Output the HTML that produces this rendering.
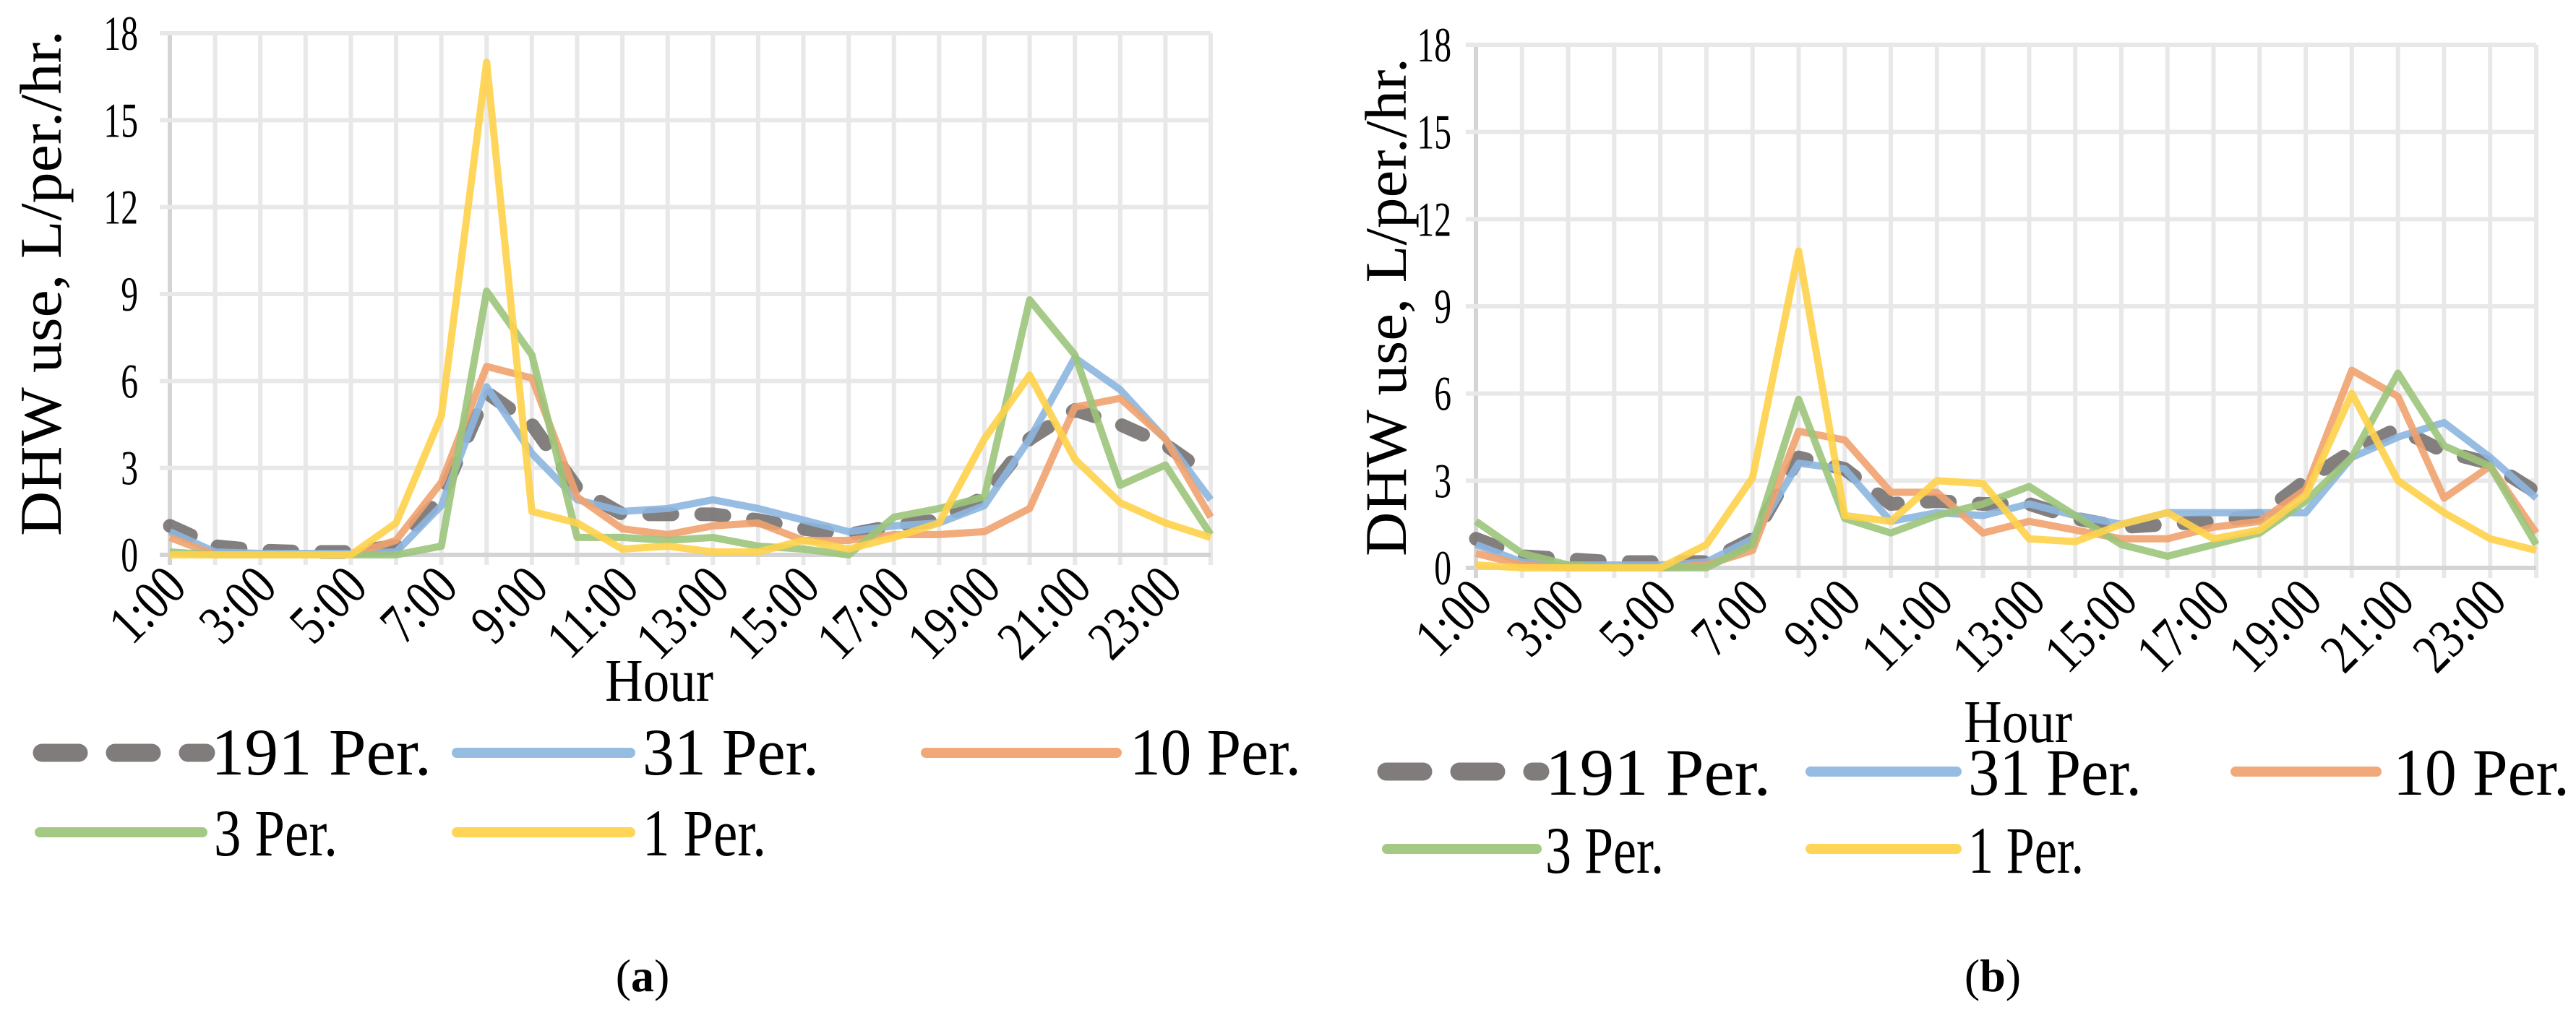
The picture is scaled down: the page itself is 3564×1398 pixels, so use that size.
<!DOCTYPE html>
<html><head><meta charset="utf-8"><style>
html,body{margin:0;padding:0;background:#fff;}
svg{display:block;font-family:"Liberation Serif",serif;}
</style></head><body>
<svg id="fig" width="3564" height="1398" viewBox="0 0 3564 1398" xmlns="http://www.w3.org/2000/svg"></svg>
<script>
const hours = ["1:00","2:00","3:00","4:00","5:00","6:00","7:00","8:00","9:00","10:00","11:00","12:00","13:00","14:00","15:00","16:00","17:00","18:00","19:00","20:00","21:00","22:00","23:00","24:00"];
const yTicks = [0,3,6,9,12,15,18];
const seriesNames = ["191 Per.","31 Per.","10 Per.","3 Per.","1 Per."];
const a191 = [1.0,0.3,0.15,0.1,0.1,0.3,2.0,5.6,4.5,2.3,1.4,1.4,1.4,1.2,0.9,0.7,1.0,1.2,2.0,4.0,5.0,4.5,3.8,2.7];
const a31 = [0.8,0.1,0.05,0.05,0.05,0.1,1.7,5.8,3.5,1.9,1.5,1.6,1.9,1.6,1.2,0.8,1.0,1.1,1.7,4.0,6.8,5.7,4.0,1.9];
const a10 = [0.6,0,0,0,0,0.5,2.5,6.5,6.1,2.0,0.9,0.7,1.0,1.1,0.5,0.5,0.7,0.7,0.8,1.6,5.1,5.4,4.0,1.3];
const a3 = [0.1,0,0,0,0,0,0.3,9.1,6.9,0.6,0.6,0.5,0.6,0.3,0.2,0,1.3,1.6,2.0,8.8,6.9,2.4,3.1,0.7];
const a1 = [0,0,0,0,0,1.1,4.8,17,1.5,1.1,0.2,0.3,0.1,0.1,0.5,0.2,0.6,1.1,4.0,6.2,3.3,1.8,1.1,0.6];
const b191 = [1.0,0.4,0.3,0.2,0.2,0.2,1.0,3.8,3.4,2.2,2.3,2.2,2.2,1.7,1.4,1.5,1.6,1.8,3.0,4.0,4.8,4.0,3.6,2.6];
const b31 = [0.8,0.2,0.1,0.1,0.1,0.2,1.0,3.6,3.4,1.6,1.9,1.8,2.2,1.8,1.5,1.9,1.9,1.9,1.9,3.8,4.5,5.0,3.8,2.4];
const b10 = [0.5,0.1,0,0,0,0.1,0.6,4.7,4.4,2.6,2.6,1.2,1.6,1.3,1.0,1.0,1.4,1.6,2.7,6.8,5.9,2.4,3.5,1.2];
const b3 = [1.6,0.5,0.1,0,0,0,0.8,5.8,1.7,1.2,1.8,2.2,2.8,1.8,0.8,0.4,0.8,1.2,2.3,3.8,6.7,4.2,3.5,0.8];
const b1 = [0.1,0,0,0,0,0.8,3.1,10.9,1.8,1.6,3.0,2.9,1.0,0.9,1.5,1.9,1.0,1.3,2.5,6.0,3.0,1.9,1.0,0.6];

const NS="http://www.w3.org/2000/svg";
const svg=document.getElementById('fig');
const colors=["#767171","#8db6e0","#f0a26e","#9cc47a","#ffd14a"];
function mk(tag,parent){const e=document.createElementNS(NS,tag);parent.appendChild(e);return e;}
function txt(parent,x,y,s,size,anchor,sx,rot){
  const t=mk('text',parent);
  t.setAttribute('font-size',size);t.setAttribute('text-anchor',anchor);
  t.setAttribute('transform',`translate(${x},${y}) rotate(${rot||0}) scale(${sx},1)`);
  t.textContent=s;return t;
}
function chart(cfg,data){
  const g=mk('g',svg);
  
  
  const xs=i=>cfg.L+(cfg.R-cfg.L)*i/(hours.length-1);
  const ys=v=>cfg.B-(cfg.B-cfg.T)*v/18;
  hours.forEach((h,i)=>{const l=mk('line',g);
    
    
    l.setAttribute('x1',xs(i));l.setAttribute('x2',xs(i));l.setAttribute('y1',cfg.T);l.setAttribute('y2',cfg.B+14);
    l.setAttribute('stroke',i===0?'#d4d4d4':'#e8e8e8');l.setAttribute('stroke-width',6);});
  yTicks.forEach(v=>{const l=mk('line',g);
    
    
    l.setAttribute('x1',cfg.L-14);l.setAttribute('x2',cfg.R);l.setAttribute('y1',ys(v));l.setAttribute('y2',ys(v));
    l.setAttribute('stroke',v===0?'#d4d4d4':'#e8e8e8');l.setAttribute('stroke-width',6);
    const t=txt(g,cfg.yl,ys(v)+23,String(v),68,'end',0.7,0);
    
    });
  hours.forEach((h,i)=>{if(i%2)return;
    const t=txt(g,xs(i)+26,cfg.B+48,h,78,'end',0.8,-45);
    
    });
  data.forEach((arr,k)=>{const p=mk('polyline',g);
    
    
    p.setAttribute('points',arr.map((v,i)=>xs(i)+','+ys(v)).join(' '));
    p.setAttribute('fill','none');p.setAttribute('stroke',colors[k]);p.setAttribute('stroke-opacity',0.9);
    p.setAttribute('stroke-linejoin','round');
    if(k===0){p.setAttribute('stroke-width',19);p.setAttribute('stroke-dasharray','32 40');p.setAttribute('stroke-linecap','round');}
    else p.setAttribute('stroke-width',10);});
  const yt=mk('text',g);
  
  
  yt.setAttribute('font-size',82);yt.setAttribute('text-anchor','middle');
  yt.setAttribute('textLength',cfg.ytLen);yt.setAttribute('lengthAdjust','spacingAndGlyphs');
  yt.setAttribute('transform',`translate(${cfg.ytX},${cfg.ytY}) rotate(-90)`);
  yt.textContent='DHW use, L/per./hr.';
  const xt=mk('text',g);
  
  
  xt.setAttribute('font-size',84);xt.setAttribute('text-anchor','middle');
  xt.setAttribute('textLength',150);xt.setAttribute('lengthAdjust','spacingAndGlyphs');
  xt.setAttribute('x',cfg.hx);xt.setAttribute('y',cfg.hy);xt.textContent='Hour';
  cfg.leg.forEach((e,k)=>{
    const lg=mk('g',g);
    
    
    const l=mk('line',lg);
    l.setAttribute('x1',e[0]+(k===0?12:5));l.setAttribute('x2',e[1]-(k===0?0:5));l.setAttribute('y1',e[2]);l.setAttribute('y2',e[2]);
    l.setAttribute('stroke',colors[k]);l.setAttribute('stroke-opacity',0.92);l.setAttribute('stroke-linecap','round');
    if(k===0){l.setAttribute('stroke-width',25);l.setAttribute('stroke-dasharray','51 50');}
    else l.setAttribute('stroke-width',14);
    const t=mk('text',lg);
    t.setAttribute('font-size',92);t.setAttribute('x',e[3]);t.setAttribute('y',e[4]);
    t.setAttribute('textLength',e[5]);t.setAttribute('lengthAdjust','spacingAndGlyphs');
    t.textContent=seriesNames[k];
  });
  const c=mk('text',g);
  
  
  c.setAttribute('font-size',64);c.setAttribute('text-anchor','middle');c.setAttribute('x',cfg.cx);c.setAttribute('y',1372);
  c.innerHTML='(<tspan font-weight="bold">'+cfg.cap+'</tspan>)';
}
chart({name:'chart-a',L:235,R:1675,T:46,B:768,yl:191,ytX:84,ytY:392,ytLen:700,hx:912,hy:970,cx:889,cap:'a',
  leg:[[46,285,1042,292,1072,305],[627,877,1042,889,1072,244],[1276,1550,1042,1563,1072,237],[50,285,1152,296,1184,171],[627,877,1152,889,1184,171]]},
  [a191,a31,a10,a3,a1]);
chart({name:'chart-b',L:2042,R:3509,T:62,B:786,yl:2008,ytX:1945,ytY:425,ytLen:690,hx:2792,hy:1027,cx:2757,cap:'b',
  leg:[[1906,2131,1068,2138,1100,312],[2500,2712,1068,2723,1100,240],[3088,3293,1068,3311,1100,244],[1914,2131,1175,2138,1208,164],[2500,2712,1175,2723,1208,160]]},
  [b191,b31,b10,b3,b1]);
</script>
</body></html>
